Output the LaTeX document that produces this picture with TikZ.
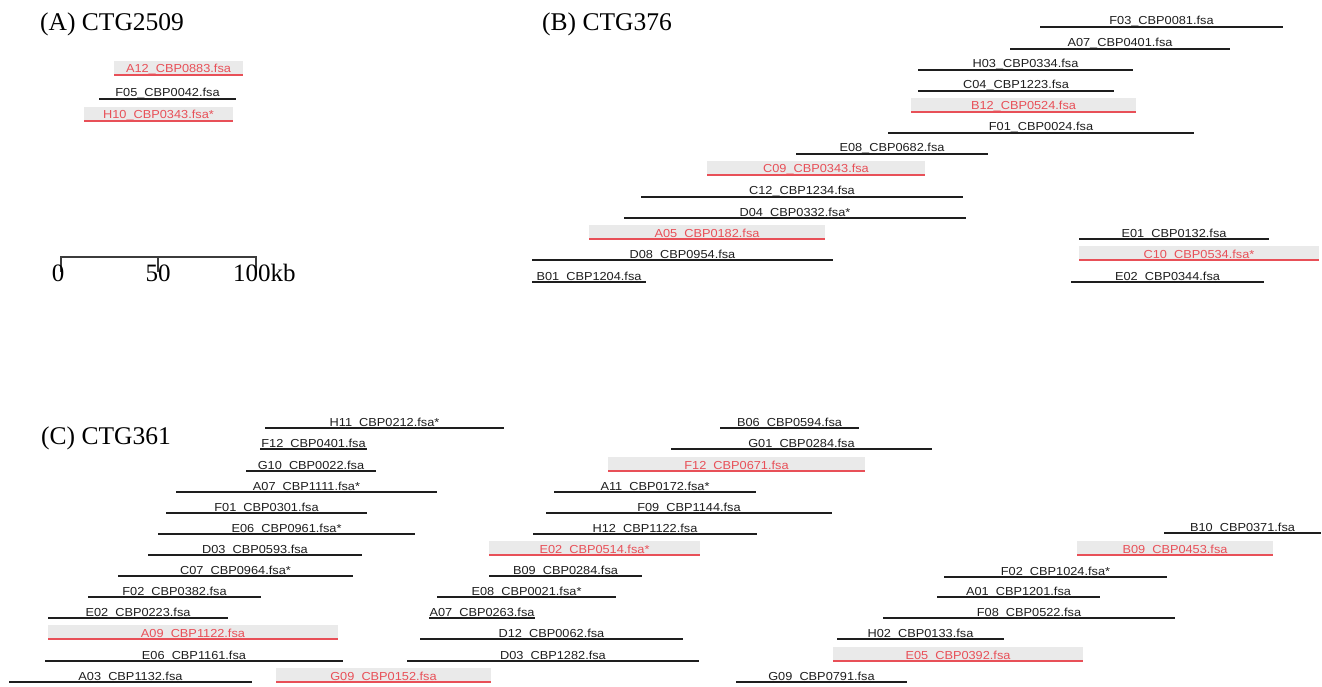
\documentclass[tikz,border=0pt]{standalone}
\usepackage{fontspec}
\setmainfont{Liberation Serif}
\newfontfamily\clonefont{Liberation Sans}[FakeStretch=1.1]
\definecolor{barcol}{RGB}{30,30,30}
\definecolor{hitred}{RGB}{232,80,88}
\definecolor{hitgrey}{RGB}{234,234,234}
\definecolor{scalecol}{RGB}{60,60,60}
\tikzset{
  lbl/.style={inner sep=0pt, outer sep=0pt, anchor=south west, text height=12pt, text depth=2pt, align=center, font=\clonefont\fontsize{11.6}{12}\selectfont},
  clone/.style={lbl, text=barcol, append after command={(\tikzlastnode.south west) edge[draw=barcol, line width=1.2pt] (\tikzlastnode.south east)}},
  hit/.style={lbl, text=hitred, fill=hitgrey, append after command={(\tikzlastnode.south west) edge[draw=hitred, line width=1.2pt] (\tikzlastnode.south east)}},
  title/.style={anchor=base west, inner sep=0pt, font=\fontsize{25.5}{28}\selectfont},
  scalelbl/.style={anchor=base, inner sep=0pt, font=\fontsize{25}{28}\selectfont},
  scalebar/.style={draw=scalecol, line width=1.3pt}
}
\begin{document}
\begin{tikzpicture}[x=1pt, y=-1pt]
\useasboundingbox (0,0) rectangle (1322,687);

\node[title] (ta) at (40,31) {(A) CTG2509};
\node[title] (tb) at (542,31) {(B) CTG376};
\node[title] (tc) at (41,444) {(C) CTG361};

\node[hit, minimum width=129pt] (a-a12) at (114,75) {A12\_CBP0883.fsa};
\node[clone, minimum width=137pt] (a-f05) at (99,99) {F05\_CBP0042.fsa};
\node[hit, minimum width=149pt] (a-h10) at (84,121) {H10\_CBP0343.fsa*};

\coordinate (s0) at (61,257);
\coordinate (s50) at (158,257);
\coordinate (s100) at (256,257);
\draw[scalebar] ([yshift=-15pt]s0) -- (s0) -- (s100) -- ([yshift=-15pt]s100);
\draw[scalebar] (s50) -- ([yshift=-15pt]s50);
\node[scalelbl] (l0) at (58,281) {0};
\node[scalelbl] (l50) at (158,281) {50};
\node[scalelbl, anchor=base west] (l100) at (233,281) {100kb};

\node[clone, minimum width=243pt] (b-f03) at (1040,27) {F03\_CBP0081.fsa};
\node[clone, minimum width=220pt] (b-a07) at (1010,49) {A07\_CBP0401.fsa};
\node[clone, minimum width=215pt] (b-h03) at (918,70) {H03\_CBP0334.fsa};
\node[clone, minimum width=196pt] (b-c04) at (918,91) {C04\_CBP1223.fsa};
\node[hit, minimum width=225pt] (b-b12) at (911,112) {B12\_CBP0524.fsa};
\node[clone, minimum width=306pt] (b-f01) at (888,133) {F01\_CBP0024.fsa};
\node[clone, minimum width=192pt] (b-e08) at (796,154) {E08\_CBP0682.fsa};
\node[hit, minimum width=218pt] (b-c09) at (707,175) {C09\_CBP0343.fsa};
\node[clone, minimum width=322pt] (b-c12) at (641,197) {C12\_CBP1234.fsa};
\node[clone, minimum width=342pt] (b-d04) at (624,218) {D04\_CBP0332.fsa*};
\node[hit, minimum width=236pt] (b-a05) at (589,239) {A05\_CBP0182.fsa};
\node[clone, minimum width=301pt] (b-d08) at (532,260) {D08\_CBP0954.fsa};
\node[clone, minimum width=114pt] (b-b01) at (532,282) {B01\_CBP1204.fsa};
\node[clone, minimum width=190pt] (b-e01) at (1079,239) {E01\_CBP0132.fsa};
\node[hit, minimum width=240pt] (b-c10) at (1079,260) {C10\_CBP0534.fsa*};
\node[clone, minimum width=193pt] (b-e02) at (1071,282) {E02\_CBP0344.fsa};

\node[clone, minimum width=239pt] (c-h11) at (265,428) {H11\_CBP0212.fsa*};
\node[clone, minimum width=107pt] (c-f12-0401) at (260,449) {F12\_CBP0401.fsa};
\node[clone, minimum width=130pt] (c-g10) at (246,471) {G10\_CBP0022.fsa};
\node[clone, minimum width=261pt] (c-a07-1111) at (176,492) {A07\_CBP1111.fsa*};
\node[clone, minimum width=201pt] (c-f01) at (166,513) {F01\_CBP0301.fsa};
\node[clone, minimum width=257pt] (c-e06-0961) at (158,534) {E06\_CBP0961.fsa*};
\node[clone, minimum width=214pt] (c-d03-0593) at (148,555) {D03\_CBP0593.fsa};
\node[clone, minimum width=235pt] (c-c07) at (118,576) {C07\_CBP0964.fsa*};
\node[clone, minimum width=173pt] (c-f02-0382) at (88,597) {F02\_CBP0382.fsa};
\node[clone, minimum width=180pt] (c-e02-0223) at (48,618) {E02\_CBP0223.fsa};
\node[hit, minimum width=290pt] (c-a09) at (48,639) {A09\_CBP1122.fsa};
\node[clone, minimum width=298pt] (c-e06-1161) at (45,661) {E06\_CBP1161.fsa};
\node[clone, minimum width=243pt] (c-a03) at (9,682) {A03\_CBP1132.fsa};
\node[hit, minimum width=215pt] (c-g09-0152) at (276,682) {G09\_CBP0152.fsa};

\node[clone, minimum width=139pt] (c-b06) at (720,428) {B06\_CBP0594.fsa};
\node[clone, minimum width=261pt] (c-g01) at (671,449) {G01\_CBP0284.fsa};
\node[hit, minimum width=257pt] (c-f12-0671) at (608,471) {F12\_CBP0671.fsa};
\node[clone, minimum width=202pt] (c-a11) at (554,492) {A11\_CBP0172.fsa*};
\node[clone, minimum width=286pt] (c-f09) at (546,513) {F09\_CBP1144.fsa};
\node[clone, minimum width=224pt] (c-h12) at (533,534) {H12\_CBP1122.fsa};
\node[hit, minimum width=211pt] (c-e02-0514) at (489,555) {E02\_CBP0514.fsa*};
\node[clone, minimum width=153pt] (c-b09-0284) at (489,576) {B09\_CBP0284.fsa};
\node[clone, minimum width=179pt] (c-e08) at (437,597) {E08\_CBP0021.fsa*};
\node[clone, minimum width=106pt] (c-a07-0263) at (429,618) {A07\_CBP0263.fsa};
\node[clone, minimum width=263pt] (c-d12) at (420,639) {D12\_CBP0062.fsa};
\node[clone, minimum width=292pt] (c-d03-1282) at (407,661) {D03\_CBP1282.fsa};
\node[clone, minimum width=171pt] (c-g09-0791) at (736,682) {G09\_CBP0791.fsa};

\node[clone, minimum width=157pt] (c-b10) at (1164,533) {B10\_CBP0371.fsa};
\node[hit, minimum width=196pt] (c-b09-0453) at (1077,555) {B09\_CBP0453.fsa};
\node[clone, minimum width=223pt] (c-f02-1024) at (944,577) {F02\_CBP1024.fsa*};
\node[clone, minimum width=163pt] (c-a01) at (937,597) {A01\_CBP1201.fsa};
\node[clone, minimum width=292pt] (c-f08) at (883,618) {F08\_CBP0522.fsa};
\node[clone, minimum width=167pt] (c-h02) at (837,639) {H02\_CBP0133.fsa};
\node[hit, minimum width=250pt] (c-e05) at (833,661) {E05\_CBP0392.fsa};
\end{tikzpicture}
\end{document}
